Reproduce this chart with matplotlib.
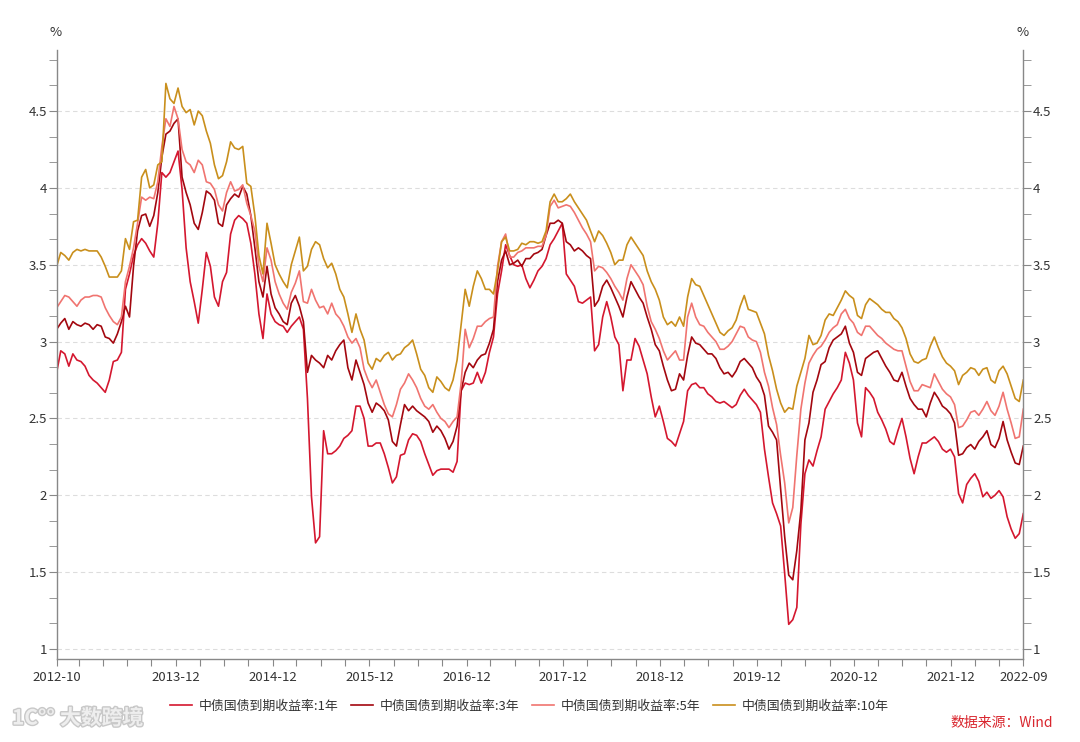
import matplotlib
matplotlib.use("Agg")
import matplotlib.pyplot as plt
import matplotlib.ticker as mticker
import matplotlib.patheffects as pe
import pandas as pd

plt.rcParams["font.family"] = ["Noto Sans CJK SC", "DejaVu Sans"]

# 数据: 半月采样 (2012-10-08 ~ 2022-09-30, 240 点), 单位 %
start_date = "2012-10-08"
end_date = "2022-09-30"

y1 = [2.80, 2.94, 2.92, 2.84, 2.92, 2.88, 2.87, 2.84, 2.78, 2.75,
      2.73, 2.70, 2.67, 2.75, 2.87, 2.88, 2.93, 3.34, 3.44, 3.56,
      3.63, 3.67, 3.64, 3.59, 3.55, 3.77, 4.10, 4.07, 4.10, 4.17,
      4.24, 3.99, 3.61, 3.39, 3.26, 3.12, 3.34, 3.58, 3.49, 3.29,
      3.23, 3.39, 3.45, 3.70, 3.79, 3.82, 3.80, 3.77, 3.64, 3.44,
      3.18, 3.02, 3.31, 3.18, 3.13, 3.11, 3.10, 3.06, 3.10, 3.13,
      3.16, 3.08, 2.63, 1.99, 1.69, 1.73, 2.42, 2.27, 2.27, 2.29,
      2.32, 2.37, 2.39, 2.42, 2.58, 2.58, 2.50, 2.32, 2.32, 2.34,
      2.34, 2.27, 2.18, 2.08, 2.12, 2.26, 2.27, 2.36, 2.40, 2.39,
      2.35, 2.27, 2.20, 2.13, 2.16, 2.17, 2.17, 2.17, 2.15, 2.22,
      2.68, 2.73, 2.72, 2.73, 2.80, 2.73, 2.80, 2.93, 3.03, 3.31,
      3.46, 3.63, 3.56, 3.50, 3.49, 3.50, 3.41, 3.35, 3.40, 3.46,
      3.49, 3.54, 3.63, 3.67, 3.72, 3.77, 3.44, 3.40, 3.36, 3.26,
      3.25, 3.27, 3.29, 2.94, 2.98, 3.16, 3.26, 3.16, 3.03, 2.98,
      2.68, 2.88, 2.88, 3.02, 2.97, 2.88, 2.79, 2.64, 2.51, 2.58,
      2.48, 2.37, 2.35, 2.32, 2.40, 2.48, 2.68, 2.72, 2.73, 2.70,
      2.70, 2.66, 2.64, 2.61, 2.60, 2.61, 2.59, 2.57, 2.59, 2.65,
      2.69, 2.65, 2.62, 2.59, 2.54, 2.30, 2.12, 1.95, 1.88, 1.80,
      1.49, 1.16, 1.19, 1.27, 1.81, 2.14, 2.23, 2.19, 2.29, 2.38,
      2.56, 2.61, 2.66, 2.70, 2.75, 2.93, 2.86, 2.75, 2.47, 2.38,
      2.70, 2.67, 2.63, 2.54, 2.49, 2.43, 2.35, 2.33, 2.42, 2.50,
      2.38, 2.24, 2.14, 2.25, 2.34, 2.34, 2.36, 2.38, 2.35, 2.30,
      2.28, 2.30, 2.25, 2.01, 1.95, 2.07, 2.11, 2.14, 2.09, 1.99,
      2.02, 1.98, 2.00, 2.03, 1.99, 1.86, 1.78, 1.72, 1.75, 1.88]

y3 = [3.08, 3.12, 3.15, 3.08, 3.13, 3.11, 3.10, 3.12, 3.11, 3.08,
      3.11, 3.10, 3.03, 3.02, 2.99, 3.05, 3.13, 3.23, 3.16, 3.49,
      3.72, 3.82, 3.83, 3.75, 3.82, 3.97, 4.20, 4.35, 4.37, 4.42,
      4.45, 4.07, 3.97, 3.89, 3.77, 3.73, 3.84, 3.98, 3.96, 3.92,
      3.77, 3.75, 3.89, 3.93, 3.96, 3.94, 4.01, 3.96, 3.82, 3.61,
      3.39, 3.29, 3.49, 3.31, 3.22, 3.18, 3.13, 3.11, 3.25, 3.30,
      3.23, 3.13, 2.80, 2.91, 2.88, 2.86, 2.83, 2.91, 2.88, 2.94,
      2.98, 3.01, 2.83, 2.75, 2.88, 2.80, 2.72, 2.60, 2.54, 2.60,
      2.58, 2.55, 2.49, 2.35, 2.32, 2.46, 2.59, 2.55, 2.58, 2.55,
      2.53, 2.51, 2.48, 2.41, 2.45, 2.42, 2.37, 2.30, 2.35, 2.45,
      2.68, 2.80, 2.86, 2.83, 2.88, 2.91, 2.92, 2.99, 3.08, 3.39,
      3.53, 3.59, 3.50, 3.51, 3.53, 3.49, 3.54, 3.54, 3.57, 3.58,
      3.60, 3.69, 3.77, 3.77, 3.79, 3.77, 3.65, 3.63, 3.59, 3.61,
      3.59, 3.56, 3.54, 3.23, 3.27, 3.36, 3.40, 3.35, 3.29, 3.23,
      3.16, 3.29, 3.39, 3.34, 3.29, 3.25, 3.16, 3.08, 2.98, 2.94,
      2.84, 2.75, 2.68, 2.69, 2.79, 2.75, 2.91, 3.03, 2.99, 2.98,
      2.95, 2.92, 2.92, 2.89, 2.83, 2.79, 2.80, 2.77, 2.81, 2.87,
      2.89, 2.86, 2.83, 2.77, 2.73, 2.65, 2.45, 2.41, 2.36, 2.04,
      1.73, 1.48, 1.45, 1.64, 1.90, 2.36, 2.47, 2.67, 2.75, 2.85,
      2.87, 2.96, 3.01, 3.03, 3.05, 3.10, 2.99, 2.93, 2.80, 2.78,
      2.89, 2.91, 2.93, 2.94, 2.89, 2.84, 2.80, 2.75, 2.74, 2.80,
      2.71, 2.63, 2.59, 2.56, 2.56, 2.51, 2.60, 2.67, 2.63, 2.58,
      2.56, 2.53, 2.47, 2.26, 2.27, 2.31, 2.33, 2.30, 2.35, 2.38,
      2.42, 2.33, 2.31, 2.37, 2.48, 2.36, 2.28, 2.21, 2.20, 2.32]

y5 = [3.22, 3.26, 3.30, 3.29, 3.26, 3.23, 3.27, 3.29, 3.29, 3.30,
      3.30, 3.29, 3.22, 3.17, 3.13, 3.11, 3.16, 3.39, 3.49, 3.61,
      3.77, 3.94, 3.92, 3.94, 3.93, 4.04, 4.27, 4.45, 4.40, 4.53,
      4.45, 4.25, 4.17, 4.15, 4.10, 4.18, 4.15, 4.04, 4.03, 3.99,
      3.89, 3.85, 3.97, 4.04, 3.98, 3.99, 4.02, 3.90, 3.82, 3.72,
      3.49, 3.39, 3.61, 3.53, 3.39, 3.31, 3.25, 3.21, 3.32, 3.38,
      3.46, 3.26, 3.25, 3.34, 3.27, 3.22, 3.23, 3.18, 3.25, 3.18,
      3.15, 3.10, 3.03, 2.99, 3.02, 2.96, 2.82, 2.75, 2.70, 2.75,
      2.67, 2.59, 2.53, 2.51, 2.59, 2.69, 2.73, 2.79, 2.75, 2.70,
      2.63, 2.58, 2.56, 2.59, 2.54, 2.50, 2.48, 2.44, 2.48, 2.51,
      2.73, 3.08, 2.96, 3.02, 3.10, 3.10, 3.13, 3.15, 3.16, 3.49,
      3.65, 3.70, 3.55, 3.55, 3.58, 3.59, 3.61, 3.61, 3.61, 3.62,
      3.62, 3.69, 3.88, 3.92, 3.87, 3.88, 3.89, 3.88, 3.84, 3.79,
      3.74, 3.70, 3.65, 3.46, 3.49, 3.48, 3.45, 3.41, 3.36, 3.32,
      3.27, 3.41, 3.50, 3.46, 3.42, 3.37, 3.23, 3.13, 3.08, 3.02,
      2.94, 2.88, 2.91, 2.94, 2.88, 2.88, 3.16, 3.25, 3.16, 3.11,
      3.10, 3.06, 3.03, 3.00, 2.95, 2.95, 2.97, 3.00, 3.05, 3.10,
      3.09, 3.03, 3.01, 3.00, 2.93, 2.80, 2.71, 2.57, 2.46, 2.26,
      2.08, 1.82, 1.92, 2.26, 2.56, 2.73, 2.86, 2.91, 2.95, 2.97,
      3.01, 3.06, 3.09, 3.11, 3.18, 3.21, 3.15, 3.12, 3.06, 3.04,
      3.10, 3.10, 3.07, 3.04, 3.02, 2.99, 2.97, 2.95, 2.94, 2.94,
      2.84, 2.74, 2.68, 2.68, 2.72, 2.71, 2.70, 2.79, 2.74, 2.69,
      2.66, 2.64, 2.59, 2.44, 2.45, 2.49, 2.54, 2.55, 2.52, 2.56,
      2.61, 2.55, 2.52, 2.58, 2.67, 2.56, 2.47, 2.37, 2.38, 2.56]

y10 = [3.49, 3.58, 3.56, 3.53, 3.58, 3.60, 3.59, 3.60, 3.59, 3.59,
       3.59, 3.55, 3.49, 3.42, 3.42, 3.42, 3.46, 3.67, 3.60, 3.78,
       3.79, 4.07, 4.12, 4.00, 4.02, 4.15, 4.17, 4.68, 4.58, 4.55,
       4.65, 4.53, 4.49, 4.51, 4.41, 4.50, 4.47, 4.37, 4.29, 4.15,
       4.06, 4.08, 4.17, 4.30, 4.26, 4.25, 4.27, 4.03, 4.01, 3.82,
       3.56, 3.44, 3.77, 3.64, 3.50, 3.44, 3.39, 3.35, 3.50, 3.59,
       3.68, 3.46, 3.49, 3.60, 3.65, 3.63, 3.54, 3.48, 3.51, 3.44,
       3.34, 3.29, 3.18, 3.06, 3.18, 3.08, 3.01, 2.86, 2.82, 2.89,
       2.87, 2.91, 2.93, 2.88, 2.91, 2.92, 2.96, 2.98, 3.01, 2.92,
       2.82, 2.78, 2.70, 2.67, 2.77, 2.74, 2.70, 2.68, 2.75, 2.88,
       3.11, 3.34, 3.23, 3.36, 3.46, 3.41, 3.34, 3.34, 3.31, 3.46,
       3.65, 3.68, 3.59, 3.59, 3.60, 3.64, 3.63, 3.65, 3.65, 3.64,
       3.65, 3.72, 3.91, 3.96, 3.91, 3.91, 3.93, 3.96, 3.91, 3.87,
       3.83, 3.79, 3.72, 3.65, 3.72, 3.69, 3.64, 3.58, 3.50, 3.53,
       3.53, 3.63, 3.68, 3.64, 3.60, 3.56, 3.46, 3.39, 3.34, 3.27,
       3.16, 3.11, 3.13, 3.10, 3.16, 3.10, 3.29, 3.41, 3.37, 3.36,
       3.30, 3.24, 3.18, 3.12, 3.06, 3.04, 3.07, 3.09, 3.14, 3.23,
       3.30, 3.21, 3.20, 3.19, 3.12, 3.05, 2.91, 2.81, 2.69, 2.60,
       2.54, 2.57, 2.56, 2.71, 2.80, 2.89, 3.04, 2.98, 2.99, 3.04,
       3.14, 3.18, 3.17, 3.22, 3.27, 3.33, 3.30, 3.28, 3.17, 3.15,
       3.24, 3.28, 3.26, 3.24, 3.21, 3.19, 3.19, 3.15, 3.13, 3.09,
       3.02, 2.92, 2.87, 2.86, 2.88, 2.89, 2.97, 3.03, 2.96, 2.90,
       2.86, 2.84, 2.81, 2.72, 2.78, 2.80, 2.83, 2.82, 2.78, 2.82,
       2.83, 2.75, 2.73, 2.81, 2.84, 2.79, 2.71, 2.63, 2.61, 2.75]

names = ["中债国债到期收益率:1年", "中债国债到期收益率:3年",
         "中债国债到期收益率:5年", "中债国债到期收益率:10年"]
colors = ["#d4172f", "#a3070f", "#f07470", "#c98f1c"]

dates = pd.date_range(start_date, end_date, periods=len(y1))

fig = plt.figure(figsize=(10.8, 7.42), dpi=100)
ax = fig.add_axes([0.0525, 0.112, 0.895, 0.8205])

for vals, name, c in zip([y1, y3, y5, y10], names, colors):
    ax.plot(dates, vals, color=c, lw=1.2, label=name)

ax.set_xlim(dates[0], dates[-1])
ax.set_ylim(0.935, 4.897)

# x 轴: 季末刻度, 只标 12 月 (2013 起) + 首尾
q_ends = pd.date_range("2012-12-01", "2022-09-01", freq="3MS") + pd.offsets.MonthEnd(0)
xt = [dates[0]] + list(q_ends)
xl = []
for i, d in enumerate(xt):
    if i == 0 or i == len(xt) - 1 or (d.month == 12 and d.year >= 2013):
        xl.append(d.strftime("%Y-%m"))
    else:
        xl.append("")
ax.set_xticks(xt)
ax.set_xticklabels(xl)

ax.yaxis.set_major_locator(mticker.MultipleLocator(0.5))
ax.yaxis.set_minor_locator(mticker.MultipleLocator(1 / 6))
ax.yaxis.set_major_formatter(mticker.FormatStrFormatter("%g"))
ax.tick_params(axis="y", which="both", direction="out", length=6, color="#888888",
               left=True, right=True, labelleft=True, labelright=True,
               labelsize=9.5, labelcolor="#333333", pad=1)
ax.tick_params(axis="x", direction="out", length=5, color="#888888",
               labelsize=9.5, labelcolor="#333333", pad=4)

ax.grid(axis="y", which="major", color="#dddddd", linestyle=(0, (4, 3)), lw=0.8)
for s in ["left", "right", "bottom"]:
    ax.spines[s].set_color("#888888")
    ax.spines[s].set_linewidth(1.0)
ax.spines["top"].set_visible(False)

fig.text(56 / 1080, 1 - 33 / 742, "%", ha="center", va="center", fontsize=9.5, color="#333333")
fig.text(1023 / 1080, 1 - 33 / 742, "%", ha="center", va="center", fontsize=9.5, color="#333333")

fig.legend(loc="center", bbox_to_anchor=(0.49, 1 - 706 / 742), ncol=4, frameon=False,
           fontsize=9.3, handlelength=1.7, handletextpad=0.5, columnspacing=1.0,
           labelcolor="#333333")

fig.text(0.975, 1 - 723 / 742, "数据来源：Wind", ha="right", va="center",
         fontsize=10, color="#d9262e")

wm = fig.text(60 / 1080, 1 - 718 / 742, "大数跨境", ha="left", va="center",
              fontsize=15, color="#eeeeee", fontweight="bold")
wm.set_path_effects([pe.withStroke(linewidth=2, foreground="#c8c8c8")])
lg = fig.text(12 / 1080, 1 - 718 / 742, "1C°°", ha="left", va="center",
              fontsize=15, color="#eeeeee", fontweight="bold")
lg.set_path_effects([pe.withStroke(linewidth=2, foreground="#c8c8c8")])

fig.savefig("out.png", dpi=100)
